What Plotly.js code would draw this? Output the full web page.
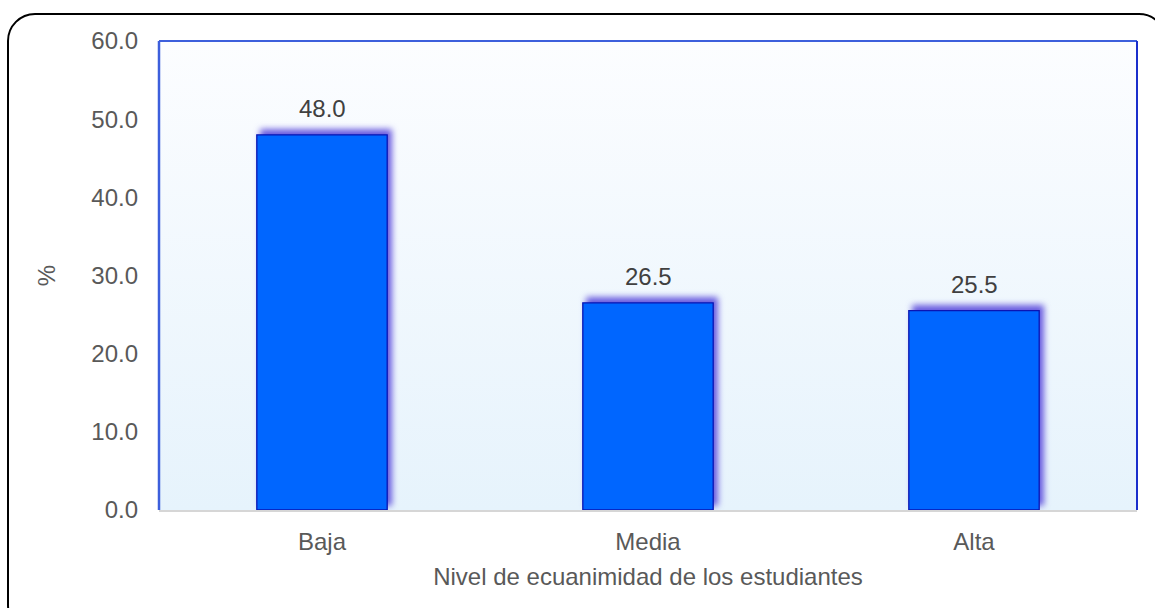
<!DOCTYPE html>
<html>
<head>
<meta charset="utf-8">
<script src="https://cdn.plot.ly/plotly-3.0.1.min.js"></script>
<style>
  html, body { margin: 0; padding: 0; background: #ffffff; overflow: hidden; }
  #wrap { position: relative; width: 1155px; height: 608px; overflow: hidden; }
  #frame { position: absolute; left: 7px; top: 13px; width: 1160px; height: 620px;
           border: 2px solid #000; border-radius: 28px; box-sizing: border-box; }
  #chart { position: absolute; left: 0; top: 0; width: 1155px; height: 608px; }
  #chart .barlayer .point path { filter: drop-shadow(4px -5px 3px rgba(70, 50, 215, 0.8)); }
</style>
</head>
<body>
<div id="wrap">
  <div id="frame"></div>
  <div id="chart"></div>
</div>
<script>
const categories = ["Baja", "Media", "Alta"];
const values = [48.0, 26.5, 25.5];
const yTickValues = [0, 10, 20, 30, 40, 50, 60];
const yTickLabels = ["0.0", "10.0", "20.0", "30.0", "40.0", "50.0", "60.0"];
const xTitle = "Nivel de ecuanimidad de los estudiantes";
const yTitle = "%";

const gradSvg = '<svg xmlns="http://www.w3.org/2000/svg" width="100" height="100" preserveAspectRatio="none">' +
  '<defs><linearGradient id="g" x1="0" y1="0" x2="0" y2="1">' +
  '<stop offset="0" stop-color="#fcfdff"/><stop offset="1" stop-color="#e6f3fc"/>' +
  '</linearGradient></defs><rect width="100" height="100" fill="url(#g)"/></svg>';
const gradUri = "data:image/svg+xml;charset=utf-8," + encodeURIComponent(gradSvg);

const font = { family: "Liberation Sans, Arial, sans-serif", size: 24, color: "#595959" };

const trace = {
  type: "bar",
  x: categories,
  y: values,
  width: 0.40,
  marker: { color: "#0066ff", line: { color: "#0a14b4", width: 1.3 } },
  hoverinfo: "x+y"
};

const annotations = categories.map((c, i) => ({
  x: c, y: values[i], xref: "x", yref: "y",
  text: values[i].toFixed(1),
  showarrow: false, yanchor: "bottom", yshift: 11,
  font: { family: font.family, size: 24, color: "#404040" }
}));

const layout = {
  width: 1155, height: 608,
  margin: { l: 159, r: 18, t: 41, b: 98 },
  paper_bgcolor: "rgba(0,0,0,0)",
  plot_bgcolor: "rgba(0,0,0,0)",
  font: font,
  showlegend: false,
  bargap: 0.6,
  xaxis: {
    type: "category",
    showgrid: false, zeroline: false,
    showline: true, linecolor: "#d6d6d6", linewidth: 2,
    ticks: "", ticklabelstandoff: 9,
    tickfont: font,
    title: { text: xTitle, font: font, standoff: 14 }
  },
  yaxis: {
    range: [0, 60],
    tickvals: yTickValues, ticktext: yTickLabels,
    showgrid: false, zeroline: false,
    showline: false,
    ticks: "", ticklabelstandoff: 20,
    tickfont: font,
    title: { text: yTitle, font: font, standoff: 28 }
  },
  images: [{
    source: gradUri, xref: "paper", yref: "paper",
    x: 0, y: 1, sizex: 1, sizey: 1, sizing: "stretch",
    xanchor: "left", yanchor: "top", layer: "below"
  }],
  shapes: [
    { type: "line", xref: "paper", yref: "paper", x0: 0, x1: 0, y0: 0, y1: 1,
      line: { color: "#3d5fdc", width: 2.5 }, layer: "above" },
    { type: "line", xref: "paper", yref: "paper", x0: 0, x1: 1, y0: 1, y1: 1,
      line: { color: "#3d5fdc", width: 2 }, layer: "above" },
    { type: "line", xref: "paper", yref: "paper", x0: 1, x1: 1, y0: 0, y1: 1,
      line: { color: "#1a2ecc", width: 2 }, layer: "above" }
  ],
  annotations: annotations
};

Plotly.newPlot("chart", [trace], layout, { displayModeBar: false, staticPlot: true });
</script>
</body>
</html>
